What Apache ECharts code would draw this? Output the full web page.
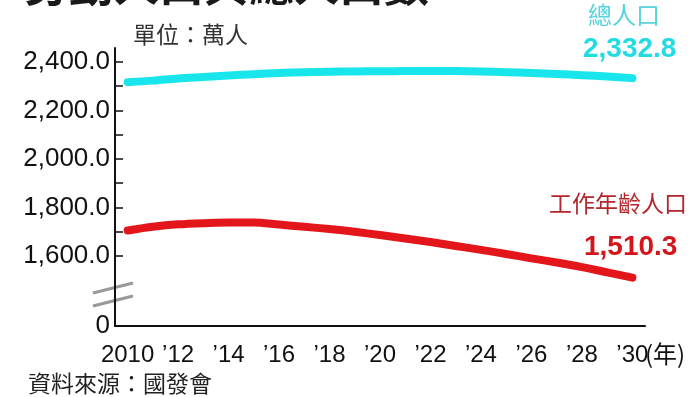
<!DOCTYPE html>
<html>
<head>
<meta charset="utf-8">
<script src="https://cdn.jsdelivr.net/npm/echarts@6/dist/echarts.min.js"></script>
<style>
    html, body { margin: 0; padding: 0; background: #fff; }
    #chart { width: 699px; height: 397px; }
</style>
</head>
<body>
<div id="chart"></div>
<script>
// years 2010..2030
const years = [
    2010, 2011, 2012, 2013, 2014, 2015, 2016, 2017, 2018, 2019, 2020,
    2021, 2022, 2023, 2024, 2025, 2026, 2027, 2028, 2029, 2030
]
// total population, 萬人
const totalPop = [
    2316.2, 2322.5, 2331.6, 2337.4, 2343.4, 2349.2, 2354.0, 2357.1, 2358.9, 2360.3, 2361.0,
    2362.0, 2362.3, 2361.8, 2360.0, 2357.5, 2354.0, 2349.8, 2345.0, 2339.2, 2332.8
]
// working-age population (15-64), 萬人
const workPop = [
    1705.0, 1720.0, 1730.0, 1735.0, 1737.5, 1737.9, 1729.1, 1720.0, 1710.8, 1699.5, 1686.0,
    1672.0, 1657.0, 1641.0, 1625.0, 1608.0, 1590.0, 1573.0, 1554.0, 1532.0, 1510.3
]
const yLabelValues = [1311, 1600, 1800, 2000, 2200, 2400]
const yTickValues = [1600, 1700, 1800, 1900, 2000, 2100, 2200, 2300, 2400]

const cyan = "#18e6ec"
const red  = "#e3161b"
const numFont = "'Liberation Sans', Arial, sans-serif"
const cjkFont = "'Noto Sans CJK TC', 'Noto Sans CJK SC', sans-serif"

const fmt = v => v.toLocaleString("en-US", { minimumFractionDigits: 1, maximumFractionDigits: 1 })

const chart = echarts.init(document.getElementById("chart"))

chart.setOption({
    animation: false,
    backgroundColor: "#fff",
    grid: { left: 115, right: 54, top: 48, bottom: 71 },
    xAxis: {
        type: "category",
        data: years.map(String),
        boundaryGap: true,
        axisLine: { lineStyle: { color: "#111", width: 2 } },
        axisTick: { inside: true, length: 5, interval: 0, lineStyle: { color: "#111", width: 1.5 } },
        axisLabel: {
            interval: 1,
            margin: 17,
            fontSize: 24,
            fontFamily: numFont,
            color: "#111",
            formatter: v => v === "2010" ? "2010" : "\u2019" + v.slice(2)
        }
    },
    yAxis: {
        type: "value",
        min: 1311,
        max: 2457,
        splitLine: { show: false },
        axisLine: { show: true, lineStyle: { color: "#111", width: 2 } },
        axisTick: {
            show: true, inside: true, length: 8,
            customValues: yTickValues,
            lineStyle: { color: "#111", width: 1.5 }
        },
        axisLabel: {
            customValues: yLabelValues,
            margin: 5,
            fontSize: 26,
            fontFamily: numFont,
            color: "#111",
            formatter: v => v < 1500 ? "0" : fmt(v)
        }
    },
    series: [
        {
            name: "總人口",
            type: "line",
            data: totalPop,
            symbol: "none",
            smooth: 0.3,
            lineStyle: { color: cyan, width: 8, cap: "round", join: "round" }
        },
        {
            name: "工作年齡人口",
            type: "line",
            data: workPop,
            symbol: "none",
            smooth: 0.3,
            lineStyle: { color: red, width: 8, cap: "round", join: "round" }
        }
    ],
    graphic: [
        // cut-off title
        {
            type: "text", left: 24, top: -38,
            style: { text: "勞動人口與總人口數", font: "bold 45px " + cjkFont, fill: "#1a1a1a" }
        },
        {
            type: "text", left: 133, top: 23,
            style: { text: "單位：萬人", font: "23px " + cjkFont, fill: "#333" }
        },
        {
            type: "text", left: 588, top: 3,
            style: { text: "總人口", font: "24px " + cjkFont, fill: "#56d3db" }
        },
        {
            type: "text", left: 583, top: 35,
            style: { text: fmt(totalPop[totalPop.length - 1]), font: "bold 28px " + numFont, fill: "#22dbe3" }
        },
        {
            type: "text", left: 549, top: 192,
            style: { text: "工作年齡人口", font: "23px " + cjkFont, fill: "#b3262c" }
        },
        {
            type: "text", left: 584, top: 233,
            style: { text: fmt(workPop[workPop.length - 1]), font: "bold 28px " + numFont, fill: "#d4151b" }
        },
        {
            type: "text", left: 645, top: 342,
            style: { text: "(年)", font: "24px " + cjkFont, fill: "#111" }
        },
        {
            type: "text", left: 28, top: 372,
            style: { text: "資料來源：國發會", font: "23px " + cjkFont, fill: "#222" }
        },
        // axis break
        {
            type: "polygon",
            shape: { points: [[93, 293], [133, 283], [133, 296], [93, 306]] },
            style: { fill: "#fff" }
        },
        {
            type: "line",
            shape: { x1: 93, y1: 293, x2: 133, y2: 283 },
            style: { stroke: "#999", lineWidth: 3 }
        },
        {
            type: "line",
            shape: { x1: 93, y1: 306, x2: 133, y2: 296 },
            style: { stroke: "#999", lineWidth: 3 }
        }
    ]
})
</script>
</body>
</html>
